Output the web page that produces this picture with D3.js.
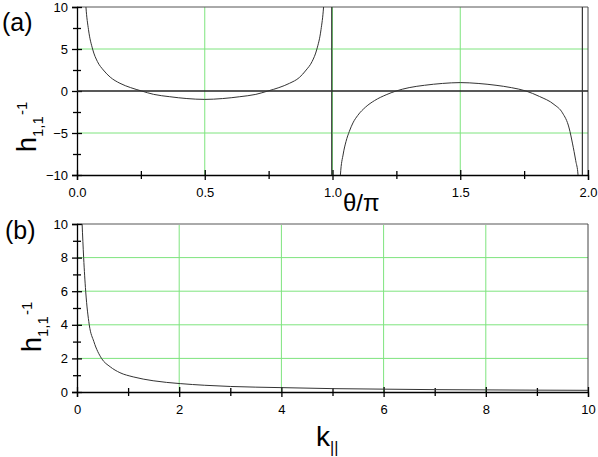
<!DOCTYPE html>
<html>
<head>
<meta charset="utf-8">
<script src="https://cdn.jsdelivr.net/npm/d3@7"></script>
<style>
body { margin: 0; background: #fff; }
text { font-family: "Liberation Sans", Arial, sans-serif; fill: #000; }
</style>
</head>
<body>
<div id="chart"></div>
<script>
// ---- data ----
// panel (a): h^-1 against theta/pi, two branches plus the two jump lines
const branchATheta = [0.02, 0.035, 0.045, 0.061, 0.08, 0.103, 0.13, 0.168, 0.21, 0.253, 0.3, 0.363, 0.43, 0.5,
                      0.57, 0.637, 0.7, 0.747, 0.79, 0.832, 0.87, 0.897, 0.92, 0.939, 0.955, 0.965, 0.98];
const branchAH = [20, 10, 7.3, 5, 3.5, 2.5, 1.65, 0.92, 0.4, 0, -0.4, -0.68, -0.9, -1.0,
                  -0.9, -0.68, -0.4, 0, 0.4, 0.92, 1.6, 2.5, 3.5, 5, 7.3, 10, 20];
const branchBTheta = [1.02, 1.031, 1.042, 1.053, 1.066, 1.08, 1.099, 1.13, 1.164, 1.21, 1.249, 1.3, 1.36, 1.43, 1.5,
                      1.57, 1.64, 1.7, 1.757, 1.81, 1.867, 1.9, 1.926, 1.939, 1.952, 1.961, 1.975];
const branchBH = [-20, -10, -7.5, -6.0, -4.8, -3.8, -2.9, -1.9, -1.15, -0.45, 0, 0.4, 0.68, 0.9, 1.0,
                  0.9, 0.68, 0.4, 0, -0.65, -1.6, -2.6, -4.4, -6.2, -8.3, -10, -20];
const jumpTheta = [0.997, 1.978];
const jumpH = [[10, -10], [-10, 10]];

// panel (b): h^-1 against k_parallel
const kVals = [0.1, 0.13, 0.17, 0.24, 0.33, 0.48, 0.65, 0.84, 1.1, 1.49, 2.02, 2.5, 3, 4, 5, 6, 7, 8, 9, 10];
const kH = [10, 8, 6, 4, 3, 2, 1.5, 1.15, 0.9, 0.67, 0.5, 0.4, 0.33, 0.26, 0.2, 0.17, 0.14, 0.125, 0.11, 0.1];

// ticks
const thetaMajor = [0, 0.5, 1.0, 1.5, 2.0];
const thetaMinor = [0.25, 0.75, 1.25, 1.75];
const hMajorA = [-10, -5, 0, 5, 10];
const hMinorA = [-7.5, -2.5, 2.5, 7.5];
const kMajor = [0, 2, 4, 6, 8, 10];
const kMinor = [1, 3, 5, 7, 9];
const hMajorB = [0, 2, 4, 6, 8, 10];
const hMinorB = [1, 3, 5, 7, 9];

const W = 598, H = 457;
const GREEN = "#7ee47e";
const CURVE = "#333";

const svg = d3.select("#chart").append("svg")
    .attr("width", W).attr("height", H);

const defs = svg.append("defs");

function panel(opt) {
    const x = d3.scaleLinear().domain(opt.xDomain).range([77, 588]);
    const y = d3.scaleLinear().domain(opt.yDomain).range(opt.yRange);
    const g = svg.append("g");

    defs.append("clipPath").attr("id", opt.id)
        .append("rect")
        .attr("x", x.range()[0]).attr("y", y.range()[1])
        .attr("width", x.range()[1] - x.range()[0])
        .attr("height", y.range()[0] - y.range()[1]);

    // grid
    g.selectAll(".gx").data(opt.gridX).enter().append("line")
        .attr("x1", d => x(d)).attr("x2", d => x(d))
        .attr("y1", y.range()[0]).attr("y2", y.range()[1])
        .attr("stroke", GREEN).attr("stroke-width", 1);
    g.selectAll(".gy").data(opt.gridY).enter().append("line")
        .attr("x1", x.range()[0]).attr("x2", x.range()[1])
        .attr("y1", d => y(d)).attr("y2", d => y(d))
        .attr("stroke", GREEN).attr("stroke-width", 1);

    // frame top / right
    g.append("line")
        .attr("x1", x.range()[0]).attr("x2", x.range()[1])
        .attr("y1", y.range()[1]).attr("y2", y.range()[1])
        .attr("stroke", opt.topColor).attr("stroke-width", opt.topWidth);
    g.append("line")
        .attr("x1", x.range()[1]).attr("x2", x.range()[1])
        .attr("y1", y.range()[0]).attr("y2", y.range()[1])
        .attr("stroke", "#444").attr("stroke-width", 1);

    // axes
    const xa = g.append("g").attr("transform", `translate(0,${y.range()[0]})`)
        .call(d3.axisBottom(x).tickValues(opt.xMajor).tickFormat(opt.xFormat).tickSizeOuter(0).tickSize(5).tickPadding(8));
    xa.selectAll(".tick line").attr("y1", -5);
    const xm = g.append("g").attr("transform", `translate(0,${y.range()[0]})`)
        .call(d3.axisBottom(x).tickValues(opt.xMinor).tickFormat("").tickSizeOuter(0).tickSize(4));
    xm.selectAll(".tick line").attr("y1", -4);
    xm.select(".domain").remove();

    const ya = g.append("g").attr("transform", `translate(${x.range()[0]},0)`)
        .call(d3.axisLeft(y).tickValues(opt.yMajor).tickFormat(d3.format("d")).tickSizeOuter(0).tickSize(5).tickPadding(4));
    ya.selectAll(".tick line").attr("x1", 5);
    const ym = g.append("g").attr("transform", `translate(${x.range()[0]},0)`)
        .call(d3.axisLeft(y).tickValues(opt.yMinor).tickFormat("").tickSizeOuter(0).tickSize(4));
    ym.selectAll(".tick line").attr("x1", 4);
    ym.select(".domain").remove();

    [xa, xm, ya, ym].forEach(a => {
        a.selectAll("path, line").attr("stroke", "#000").attr("stroke-width", 1.3);
        a.selectAll("text").attr("font-size", 13).attr("fill", "#000")
            .style("font-family", '"Liberation Sans", Arial, sans-serif');
    });

    return { x, y, g };
}

// ---- panel (a) ----
const pa = panel({
    id: "clipA",
    xDomain: [0, 2], yDomain: [-10, 10], yRange: [175, 7],
    gridX: [0.5, 1.0, 1.5], gridY: [-5, 5],
    xMajor: thetaMajor, xMinor: thetaMinor, xFormat: d3.format(".1f"),
    yMajor: hMajorA, yMinor: hMinorA,
    topColor: "#555", topWidth: 1
});

// zero line
pa.g.append("line")
    .attr("x1", pa.x(0)).attr("x2", pa.x(2))
    .attr("y1", pa.y(0)).attr("y2", pa.y(0))
    .attr("stroke", "#222").attr("stroke-width", 1.3);

const lineA = d3.line().x(d => pa.x(d[0])).y(d => pa.y(d[1])).curve(d3.curveMonotoneX);
const curvesA = pa.g.append("g").attr("clip-path", "url(#clipA)");
[[branchATheta, branchAH], [branchBTheta, branchBH]].forEach(([t, h]) => {
    curvesA.append("path")
        .attr("d", lineA(t.map((v, i) => [v, h[i]])))
        .attr("fill", "none").attr("stroke", CURVE).attr("stroke-width", 1);
});
jumpTheta.forEach((t, i) => {
    curvesA.append("line")
        .attr("x1", pa.x(t)).attr("x2", pa.x(t))
        .attr("y1", pa.y(jumpH[i][0])).attr("y2", pa.y(jumpH[i][1]))
        .attr("stroke", CURVE).attr("stroke-width", 1.2);
});

// ---- panel (b) ----
const pb = panel({
    id: "clipB",
    xDomain: [0, 10], yDomain: [0, 10], yRange: [392, 224],
    gridX: [2, 4, 6, 8], gridY: [2, 4, 6, 8],
    xMajor: kMajor, xMinor: kMinor, xFormat: d3.format("d"),
    yMajor: hMajorB, yMinor: hMinorB,
    topColor: "#aaa", topWidth: 2
});

const lineB = d3.line().x(d => pb.x(d[0])).y(d => pb.y(d[1])).curve(d3.curveMonotoneX);
pb.g.append("g").attr("clip-path", "url(#clipB)")
    .append("path")
    .attr("d", lineB(kVals.map((k, i) => [k, kH[i]])))
    .attr("fill", "none").attr("stroke", CURVE).attr("stroke-width", 1);

// ---- labels ----
svg.append("text").attr("x", 2).attr("y", 31).attr("font-size", 25).text("(a)");
svg.append("text").attr("x", 5).attr("y", 239).attr("font-size", 25).text("(b)");

function yLabel(xb, ys) {
    const t = svg.append("text")
        .attr("transform", `translate(${xb},${ys}) rotate(-90)`)
        .attr("font-size", 27);
    t.append("tspan").text("h");
    t.append("tspan").attr("font-size", 15).attr("dy", 7).text("1,1");
    t.append("tspan").attr("font-size", 15).attr("dy", -16).attr("dx", 1).text("-1");
}
yLabel(36, 152);
yLabel(41, 352);

svg.append("text").attr("x", 343).attr("y", 211).attr("font-size", 24).text("θ/π");

const kl = svg.append("text").attr("x", 316).attr("y", 446).attr("font-size", 28);
kl.append("tspan").text("k");
kl.append("tspan").attr("font-size", 16).attr("dy", 7).text("||");
</script>
</body>
</html>
